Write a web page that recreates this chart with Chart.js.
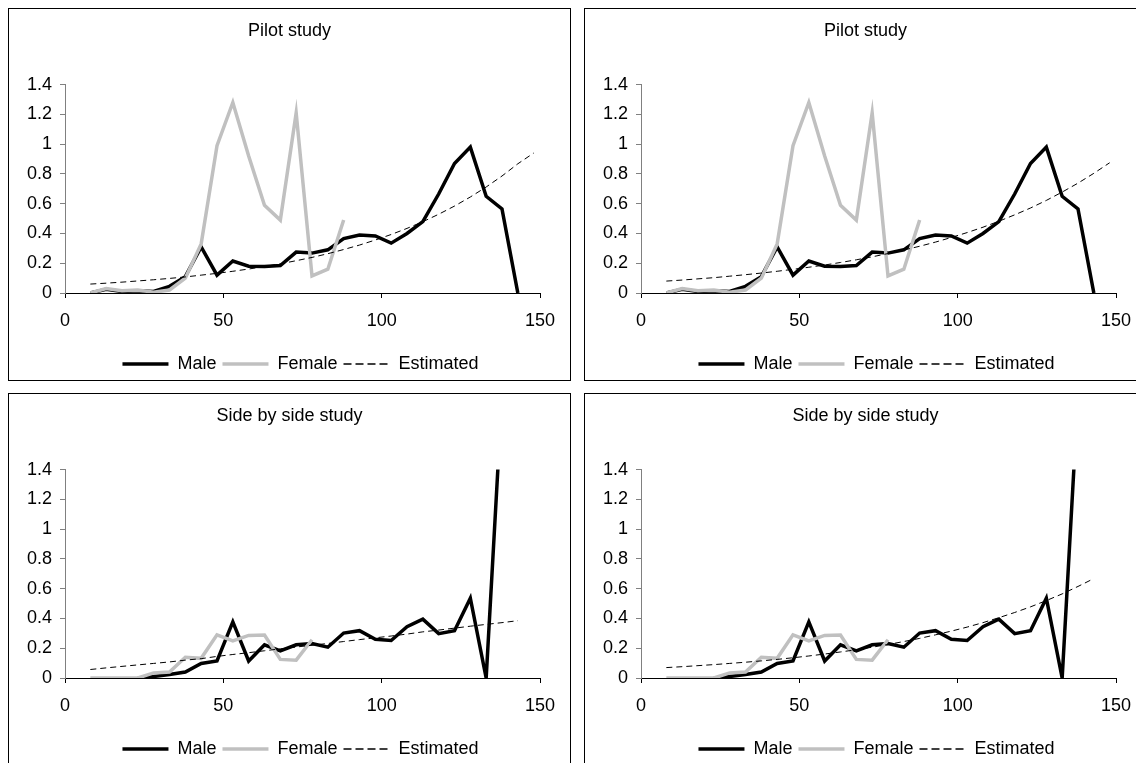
<!DOCTYPE html>
<html lang="en">
<head>
<meta charset="UTF-8">
<script src="https://cdn.jsdelivr.net/npm/chart.js"></script>
<style>
  body { margin: 0; background: #fff; width: 1136px; height: 763px; overflow: hidden; position: relative; }
  .panel { position: absolute; width: 563px; height: 373px; box-sizing: border-box; border: 1px solid #000; background: #fff; }
  .panel div { position: absolute; left: 0; top: 0; width: 561px; height: 371px; }
</style>
</head>
<body>
<div class="panel" style="left:8px; top:8px"><div><canvas id="c1"></canvas></div></div>
<div class="panel" style="left:584px; top:8px"><div><canvas id="c2"></canvas></div></div>
<div class="panel" style="left:8px; top:393px"><div><canvas id="c3"></canvas></div></div>
<div class="panel" style="left:584px; top:393px"><div><canvas id="c4"></canvas></div></div>
<script>
// ages (x values) of the observed points
var ages = [8, 13, 18, 23, 28, 33, 38, 43, 48, 53, 58, 63, 68, 73, 78, 83, 88, 93, 98, 103, 108, 113, 118, 123, 128, 133, 138, 143];
var estAgesPilot = [8, 13, 18, 23, 28, 33, 38, 43, 48, 53, 58, 63, 68, 73, 78, 83, 88, 93, 98, 103, 108, 113, 118, 123, 128, 133, 138, 143, 148];
var estAgesSide = [8, 13, 18, 23, 28, 33, 38, 43, 48, 53, 58, 63, 68, 73, 78, 83, 88, 93, 98, 103, 108, 113, 118, 123, 128, 133, 138, 143];

// pilot study
var pilotMale = [0, 0.025, 0.01, 0.015, 0.01, 0.045, 0.11, 0.31, 0.12, 0.215, 0.18, 0.178, 0.185, 0.275, 0.268, 0.29, 0.365, 0.39, 0.383, 0.335, 0.4, 0.48, 0.665, 0.87, 0.98, 0.65, 0.565, 0];
var pilotFemale = [0, 0.03, 0.015, 0.02, 0.005, 0.02, 0.1, 0.33, 0.99, 1.28, 0.92, 0.59, 0.49, 1.21, 0.115, 0.16, 0.49];
var pilotEstLeft = [0.06, 0.066, 0.073, 0.081, 0.089, 0.098, 0.108, 0.12, 0.132, 0.146, 0.161, 0.178, 0.196, 0.217, 0.239, 0.264, 0.292, 0.322, 0.356, 0.393, 0.434, 0.479, 0.529, 0.584, 0.645, 0.712, 0.786, 0.868, 0.94];
var pilotEstRight = [0.08, 0.087, 0.095, 0.103, 0.113, 0.123, 0.134, 0.146, 0.159, 0.173, 0.188, 0.205, 0.223, 0.243, 0.265, 0.289, 0.314, 0.342, 0.373, 0.406, 0.442, 0.482, 0.525, 0.571, 0.622, 0.678, 0.738, 0.804, 0.875];

// side by side study
var sideMale = [null, null, null, 0, 0.01, 0.023, 0.04, 0.098, 0.114, 0.377, 0.114, 0.223, 0.182, 0.223, 0.232, 0.207, 0.302, 0.318, 0.26, 0.252, 0.345, 0.395, 0.298, 0.318, 0.536, 0, 1.9];
var sideFemale = [0, 0, 0, 0, 0.034, 0.04, 0.139, 0.132, 0.29, 0.25, 0.286, 0.289, 0.125, 0.12, 0.257];
var sideEstLeft = [0.057, 0.068, 0.078, 0.088, 0.098, 0.108, 0.12, 0.13, 0.145, 0.158, 0.17, 0.183, 0.196, 0.208, 0.22, 0.232, 0.245, 0.258, 0.27, 0.282, 0.295, 0.31, 0.322, 0.335, 0.348, 0.36, 0.372, 0.385];
var sideEstRight = [0.07, 0.076, 0.083, 0.09, 0.098, 0.106, 0.115, 0.125, 0.136, 0.148, 0.161, 0.175, 0.19, 0.207, 0.225, 0.245, 0.266, 0.29, 0.315, 0.342, 0.372, 0.405, 0.44, 0.478, 0.52, 0.565, 0.615, 0.668];

var yTicks = [0, 0.2, 0.4, 0.6, 0.8, 1, 1.2, 1.4];
var xTicks = [0, 50, 100, 150];

Chart.defaults.font.family = '"Liberation Sans", Arial, sans-serif';
Chart.defaults.font.size = 18;
Chart.defaults.color = '#000';

function pts(xs, ys) {
    return ys.map(function (v, i) { return { x: xs[i], y: v }; });
}

// title and legend sit a little right of the plot centre in the original
var blockShift = {
    id: 'blockShift',
    afterLayout: function (chart) {
        chart.titleBlock.left += 15;
        chart.titleBlock.right += 15;
        chart.legend.left += 26;
        chart.legend.right += 26;
    }
};

function makeChart(id, title, male, female, estX, est) {
    var ctx = document.getElementById(id).getContext('2d');
    return new Chart(ctx, {
        type: 'line',
        data: {
            datasets: [
                { label: 'Male', data: pts(ages, male), borderColor: '#000', borderWidth: 3.5, order: 3 },
                { label: 'Female', data: pts(ages, female), borderColor: '#c0c0c0', borderWidth: 3.5, order: 2 },
                { label: 'Estimated', data: pts(estX, est), borderColor: '#000', borderWidth: 1, borderDash: [6, 4], order: 1 }
            ]
        },
        plugins: [blockShift],
        options: {
            responsive: true,
            maintainAspectRatio: false,
            animation: false,
            parsing: false,
            elements: { point: { radius: 0 }, line: { tension: 0, fill: false } },
            datasets: { line: { clip: 0, spanGaps: false } },
            layout: { padding: { left: 0, right: 30, top: 0, bottom: -3 } },
            plugins: {
                tooltip: { enabled: false },
                title: {
                    display: true,
                    text: title,
                    font: { size: 18, weight: 'normal' },
                    padding: { top: 11, bottom: 43 }
                },
                legend: {
                    position: 'bottom',
                    labels: {
                        usePointStyle: true,
                        pointStyle: 'line',
                        pointStyleWidth: 46,
                        padding: 6,
                        font: { size: 18 },
                        sort: function (a, b) { return a.datasetIndex - b.datasetIndex; },
                        generateLabels: function (chart) {
                            var items = Chart.defaults.plugins.legend.labels.generateLabels(chart);
                            items.forEach(function (it) {
                                var ds = chart.data.datasets[it.datasetIndex];
                                it.lineDash = ds.borderDash ? [8, 4] : [];
                                it.lineWidth = ds.borderDash ? 1.5 : ds.borderWidth;
                                it.strokeStyle = ds.borderColor;
                            });
                            return items;
                        }
                    }
                }
            },
            scales: {
                x: {
                    type: 'linear',
                    min: 0,
                    max: 150,
                    afterBuildTicks: function (s) { s.ticks = xTicks.map(function (v) { return { value: v }; }); },
                    afterFit: function (s) { s.height = 56; },
                    grid: { drawOnChartArea: false, drawTicks: true, tickLength: 5, color: '#000' },
                    border: { color: '#000' },
                    ticks: { padding: 12, maxRotation: 0 }
                },
                y: {
                    min: 0,
                    max: 1.4,
                    afterBuildTicks: function (s) { s.ticks = yTicks.map(function (v) { return { value: v }; }); },
                    afterFit: function (s) { s.width = 56; },
                    grid: { drawOnChartArea: false, drawTicks: true, tickLength: 5, color: '#808080' },
                    border: { color: '#808080' },
                    ticks: { padding: 8, callback: function (v) { return String(v); } }
                }
            }
        }
    });
}

makeChart('c1', 'Pilot study', pilotMale, pilotFemale, estAgesPilot, pilotEstLeft);
makeChart('c2', 'Pilot study', pilotMale, pilotFemale, estAgesPilot, pilotEstRight);
makeChart('c3', 'Side by side study', sideMale, sideFemale, estAgesSide, sideEstLeft);
makeChart('c4', 'Side by side study', sideMale, sideFemale, estAgesSide, sideEstRight);
</script>
</body>
</html>
